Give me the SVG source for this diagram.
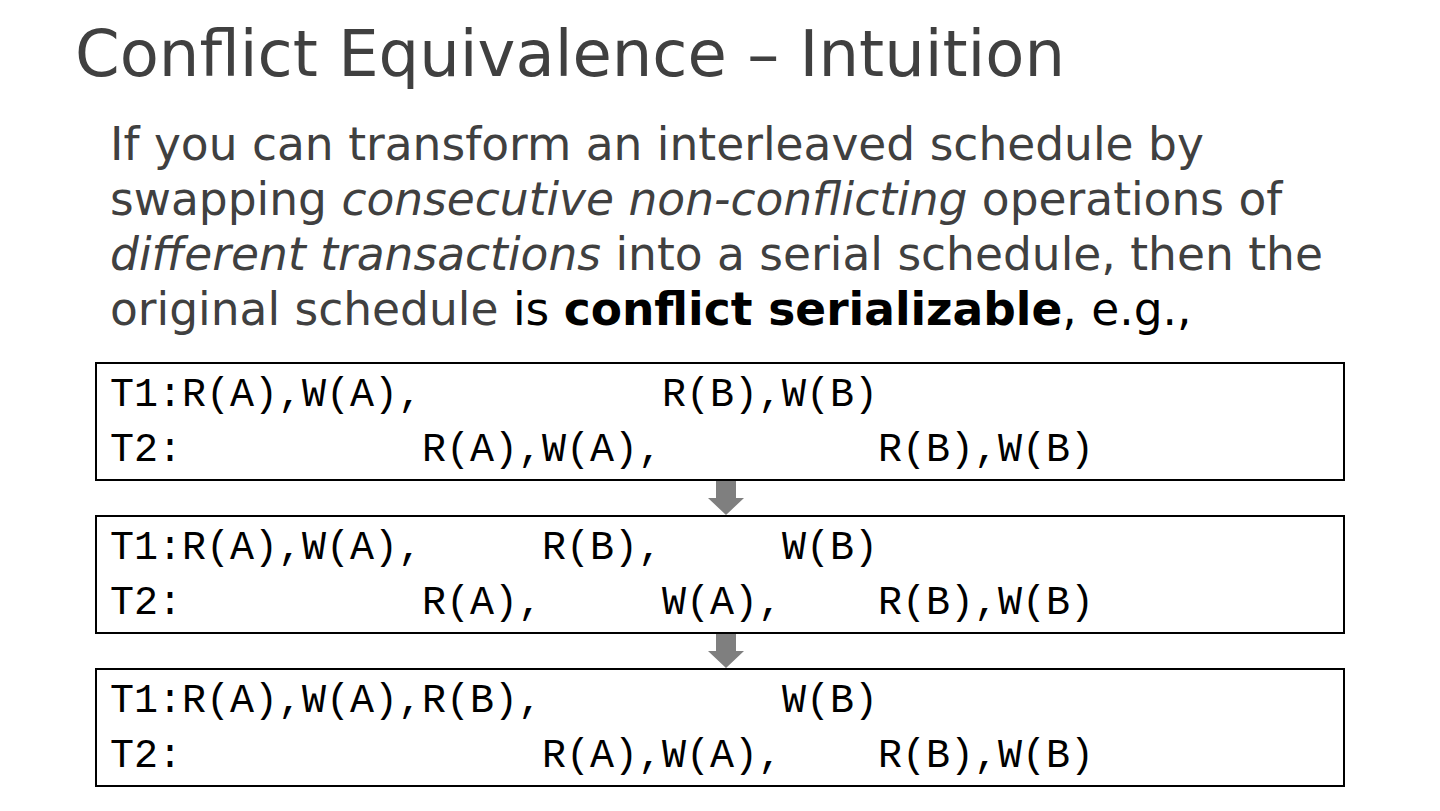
<svg xmlns="http://www.w3.org/2000/svg" width="1440" height="811" viewBox="0 0 1440 811">
<style>
.title{font-family:"DejaVu Sans",sans-serif;font-size:64px;fill:#404040}
.body{font-family:"DejaVu Sans",sans-serif;font-size:45.5px;fill:#404040}
.blk{fill:#000000}
.mono{font-family:"Liberation Mono","Courier New",monospace;font-size:40px;fill:#000000}
.box{fill:#ffffff;stroke:#000000;stroke-width:2}
.arrow{fill:#7f7f7f}
</style>
<rect width="1440" height="811" fill="#ffffff"/>
<text class="title" x="75" y="76">Conflict Equivalence – Intuition</text>
<g id="intro">
<text class="body" x="110" y="160">If you can transform an interleaved schedule by</text>
<text class="body" x="110" y="215">swapping <tspan font-style="italic">consecutive non-conflicting</tspan> operations of</text>
<text class="body" x="110" y="270"><tspan font-style="italic">different transactions</tspan> into a serial schedule, then the</text>
<text class="body" x="110" y="325">original schedule <tspan class="blk">is </tspan><tspan class="blk" font-weight="bold">conflict serializable</tspan><tspan class="blk">, e.g.,</tspan></text>
</g>
<g id="schedule1">
<rect class="box" x="96" y="363" width="1248" height="117"/>
<text class="mono" y="406"><tspan x="110">T1:R(A),W(A),</tspan><tspan x="662">R(B),W(B)</tspan></text>
<text class="mono" y="461"><tspan x="110">T2:</tspan><tspan x="422">R(A),W(A),</tspan><tspan x="878">R(B),W(B)</tspan></text>
</g>
<g id="schedule2">
<rect class="box" x="96" y="516" width="1248" height="117"/>
<text class="mono" y="559"><tspan x="110">T1:R(A),W(A),</tspan><tspan x="542">R(B),</tspan><tspan x="782">W(B)</tspan></text>
<text class="mono" y="614"><tspan x="110">T2:</tspan><tspan x="422">R(A),</tspan><tspan x="662">W(A),</tspan><tspan x="878">R(B),W(B)</tspan></text>
</g>
<g id="schedule3">
<rect class="box" x="96" y="669" width="1248" height="117"/>
<text class="mono" y="712"><tspan x="110">T1:R(A),W(A),R(B),</tspan><tspan x="782">W(B)</tspan></text>
<text class="mono" y="767"><tspan x="110">T2:</tspan><tspan x="542">R(A),W(A),</tspan><tspan x="878">R(B),W(B)</tspan></text>
</g>
<g id="connectors">
<polygon class="arrow" points="716,481 736,481 736,498 744,498 726,515 708,498 716,498"/>
<polygon class="arrow" points="716,634 736,634 736,651 744,651 726,668 708,651 716,651"/>
</g>
</svg>
